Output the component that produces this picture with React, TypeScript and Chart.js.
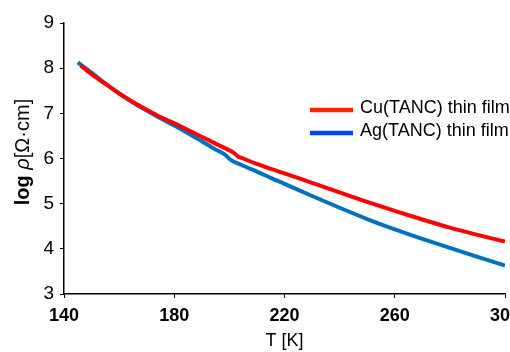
import React, { useEffect, useRef } from "react";
import { Chart, registerables } from "chart.js";

Chart.register(...registerables);

// Resistivity vs temperature for the two TANC thin films
const cuTemps = [146, 150, 155, 160, 165, 170, 175, 180, 185, 190, 195, 200, 201.5, 203, 205, 210, 215, 220, 230, 240, 250, 260, 270, 280, 290, 300];
const cuLogRho = [8.06, 7.87, 7.65, 7.44, 7.25, 7.08, 6.92, 6.78, 6.63, 6.48, 6.33, 6.18, 6.13, 6.05, 6.0, 5.88, 5.77, 5.67, 5.46, 5.25, 5.04, 4.84, 4.65, 4.47, 4.31, 4.16];

const agTemps = [145, 150, 155, 160, 165, 170, 175, 180, 185, 190, 195, 198.5, 200.5, 205, 210, 215, 220, 230, 240, 250, 260, 270, 280, 290, 300];
const agLogRho = [8.13, 7.9, 7.66, 7.44, 7.24, 7.06, 6.89, 6.73, 6.56, 6.38, 6.2, 6.08, 5.97, 5.84, 5.71, 5.57, 5.44, 5.17, 4.91, 4.66, 4.43, 4.22, 4.02, 3.82, 3.63];

const seriesLabels = ["Cu(TANC) thin film", "Ag(TANC) thin film"];
const lineColors = ["#ff0000", "#0070c0"];
const legendColors = ["#ff2200", "#0044ff"];

const xTicks = [140, 180, 220, 260, 300];

const FONT = "Arial, 'Liberation Sans', sans-serif";

// Legend drawn inside the plot area, at the right
const legendPlugin = {
  id: "filmLegend",
  afterDraw(chart: any) {
    const ctx = chart.ctx;
    ctx.save();
    const rows = [109, 132];
    chart.data.datasets.forEach((ds: any, i: number) => {
      const y = rows[i];
      ctx.strokeStyle = legendColors[i];
      ctx.lineWidth = 4.5;
      ctx.beginPath();
      ctx.moveTo(310, y + 1);
      ctx.lineTo(353, y + 1);
      ctx.stroke();
      ctx.fillStyle = "#000";
      ctx.font = `18px ${FONT}`;
      ctx.textBaseline = "middle";
      ctx.textAlign = "left";
      ctx.fillText(ds.label, 360, y - 1);
    });
    ctx.restore();
  },
};

// Y axis title with mixed styles: bold "log", italic rho, regular unit
const yTitlePlugin = {
  id: "yTitle",
  afterDraw(chart: any) {
    const ctx = chart.ctx;
    const parts = [
      { text: "log ", font: `bold 20px ${FONT}` },
      { text: "ρ", font: `italic 20px ${FONT}` },
      { text: "[Ω·cm]", font: `20px ${FONT}` },
    ];
    ctx.save();
    let total = 0;
    const widths = parts.map((p) => {
      ctx.font = p.font;
      const w = ctx.measureText(p.text).width;
      total += w;
      return w;
    });
    ctx.translate(23, 152);
    ctx.rotate(-Math.PI / 2);
    ctx.fillStyle = "#000";
    ctx.textBaseline = "middle";
    ctx.textAlign = "left";
    let x = -total / 2;
    parts.forEach((p, i) => {
      ctx.font = p.font;
      ctx.fillText(p.text, x, 0);
      x += widths[i];
    });
    ctx.restore();
  },
};

export default function App() {
  const canvasRef = useRef<HTMLCanvasElement | null>(null);

  useEffect(() => {
    document.body.style.margin = "0";
    const canvas = canvasRef.current;
    if (!canvas) return;
    const chart = new Chart(canvas, {
      type: "line",
      data: {
        datasets: [
          {
            label: seriesLabels[0],
            data: cuTemps.map((t, i) => ({ x: t, y: cuLogRho[i] })),
            borderColor: lineColors[0],
            borderWidth: 4,
            pointRadius: 0,
            cubicInterpolationMode: "monotone",
            order: 1,
          },
          {
            label: seriesLabels[1],
            data: agTemps.map((t, i) => ({ x: t, y: agLogRho[i] })),
            borderColor: lineColors[1],
            borderWidth: 4,
            pointRadius: 0,
            cubicInterpolationMode: "monotone",
            order: 2,
          },
        ],
      },
      options: {
        animation: false,
        responsive: false,
        maintainAspectRatio: false,
        layout: { padding: { top: 23, right: 5, left: 0, bottom: 0 } },
        plugins: {
          legend: { display: false },
          tooltip: { enabled: false },
        },
        scales: {
          x: {
            type: "linear",
            min: 140,
            max: 300,
            afterBuildTicks: (scale: any) => {
              scale.ticks = xTicks.map((v) => ({ value: v }));
            },
            afterFit: (scale: any) => {
              scale.height = 58;
              scale.paddingLeft = 0;
              scale.paddingRight = 0;
            },
            border: { color: "#000", width: 1.5 },
            grid: { drawOnChartArea: false, drawTicks: true, tickLength: 4, tickColor: "#000" },
            ticks: {
              color: "#000",
              font: { family: FONT, size: 18, weight: "bold" },
              padding: 7,
              maxRotation: 0,
              autoSkip: false,
            },
            title: {
              display: true,
              text: "T [K]",
              color: "#000",
              font: { family: FONT, size: 18 },
              padding: { top: 3, bottom: 0 },
            },
          },
          y: {
            min: 3,
            max: 9,
            ticks: {
              stepSize: 1,
              color: "#000",
              font: { family: FONT, size: 19 },
              padding: 6,
            },
            afterFit: (scale: any) => {
              scale.width = 64;
              scale.paddingTop = 0;
              scale.paddingBottom = 0;
            },
            border: { color: "#000", width: 1.5 },
            grid: { drawOnChartArea: false, drawTicks: true, tickLength: 4, tickColor: "#000" },
          },
        },
      },
      plugins: [legendPlugin, yTitlePlugin],
    } as any);
    return () => chart.destroy();
  }, []);

  return (
    <div style={{ position: "absolute", left: 0, top: 0, width: 510, height: 352 }}>
      <canvas ref={canvasRef} width={510} height={352} />
    </div>
  );
}
